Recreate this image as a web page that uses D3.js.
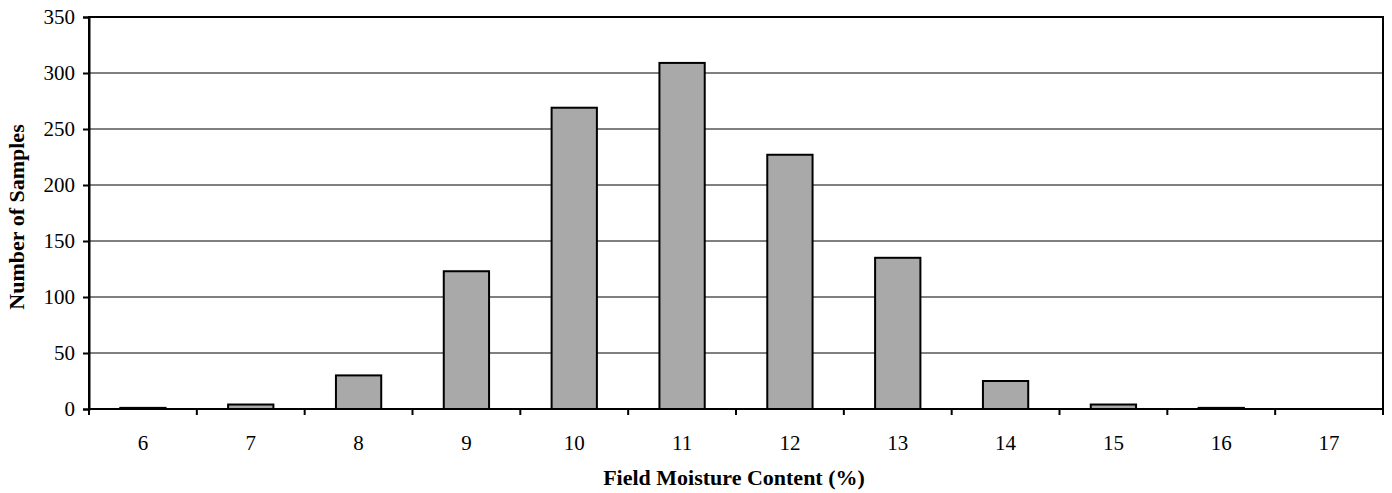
<!DOCTYPE html>
<html><head><meta charset="utf-8">
<script src="https://cdn.jsdelivr.net/npm/d3@7"></script>
<style>body{margin:0;background:#fff}svg{display:block}</style>
</head><body>
<svg id="c" width="1392" height="493"></svg>
<script>
const categories = ["6","7","8","9","10","11","12","13","14","15","16","17"];
const samples = [1, 4, 30, 123, 269, 309, 227, 135, 25, 4, 1, 0];
const yTicks = [0, 50, 100, 150, 200, 250, 300, 350];

const svg = d3.select("#c");
const m = {l: 89, r: 9, t: 17, b: 84};
const W = 1392, H = 493;
const x = d3.scaleBand().domain(categories).range([m.l, W - m.r]).paddingInner(0.58).paddingOuter(0.29);
const xEdge = d3.scaleLinear().domain([0, categories.length]).range([m.l, W - m.r]);
const y = d3.scaleLinear().domain([0, 350]).range([H - m.b, m.t]);

// gridlines
svg.append("g").selectAll("line").data(yTicks).join("line")
  .attr("x1", m.l).attr("x2", W - m.r)
  .attr("y1", d => y(d)).attr("y2", d => y(d))
  .attr("stroke", "#000").attr("stroke-width", 1);

// bars
svg.append("g").selectAll("rect").data(samples).join("rect")
  .attr("x", (d, i) => x(categories[i]))
  .attr("width", x.bandwidth())
  .attr("y", d => y(d))
  .attr("height", d => y(0) - y(d))
  .attr("fill", "#a9a9a9").attr("stroke", "#000").attr("stroke-width", 2);

// frame
svg.append("rect").attr("x", m.l).attr("y", m.t).attr("width", W - m.r - m.l).attr("height", y(0) - m.t)
  .attr("fill", "none").attr("stroke", "#000").attr("stroke-width", 2);

// y axis
const yAxis = svg.append("g").attr("transform", `translate(${m.l},0)`)
  .call(d3.axisLeft(y).tickValues(yTicks).tickSize(6).tickPadding(8));
yAxis.select(".domain").attr("stroke-width", 2);
yAxis.selectAll("line").attr("stroke-width", 2);
yAxis.selectAll("text").attr("font-family", "Liberation Serif").attr("font-size", 21).attr("fill", "#000");

// x axis ticks at category boundaries
const xg = svg.append("g");
xg.selectAll("line").data(d3.range(0, categories.length + 1)).join("line")
  .attr("x1", d => xEdge(d)).attr("x2", d => xEdge(d))
  .attr("y1", y(0)).attr("y2", y(0) + 6)
  .attr("stroke", "#000").attr("stroke-width", 2);
xg.append("line").attr("x1", m.l).attr("x2", W - m.r).attr("y1", y(0)).attr("y2", y(0))
  .attr("stroke", "#000").attr("stroke-width", 2);
xg.selectAll("text").data(categories).join("text")
  .attr("x", d => x(d) + x.bandwidth() / 2).attr("y", 450)
  .attr("text-anchor", "middle")
  .attr("font-family", "Liberation Serif").attr("font-size", 21).attr("fill", "#000")
  .text(d => d);

// titles
svg.append("text").attr("x", 734).attr("y", 485)
  .attr("text-anchor", "middle").attr("font-family", "Liberation Serif").attr("font-weight", "bold")
  .attr("font-size", 22).text("Field Moisture Content (%)");
svg.append("text").attr("transform", `translate(24,217) rotate(-90)`)
  .attr("text-anchor", "middle").attr("font-family", "Liberation Serif").attr("font-weight", "bold")
  .attr("font-size", 22).text("Number of Samples");
</script>
</body></html>
